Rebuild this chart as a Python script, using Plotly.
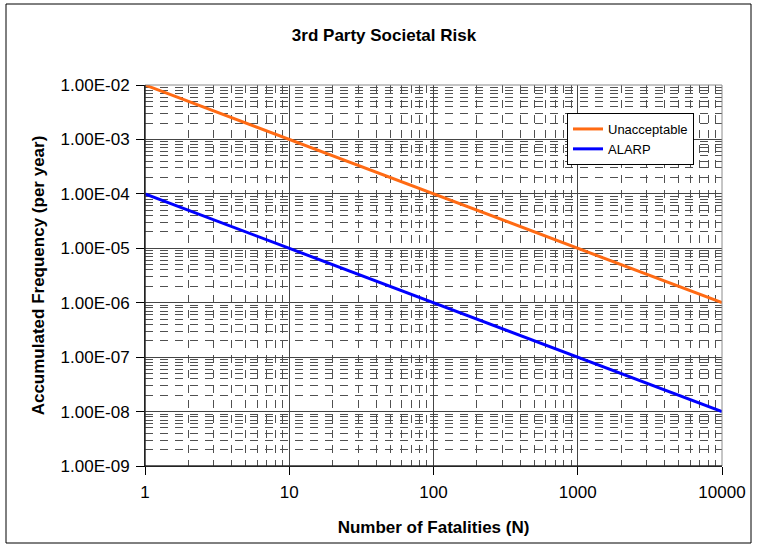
import plotly.graph_objects as go

# Societal risk criteria (F-N curve)
fatalities = [1, 10, 100, 1000, 10000]
unacceptable = [1e-2, 1e-3, 1e-4, 1e-5, 1e-6]
alarp = [1e-4, 1e-5, 1e-6, 1e-7, 1e-8]

x_tickvals = [1, 10, 100, 1000, 10000]
x_ticktext = ["1", "10", "100", "1000", "10000"]
y_tickvals = [1e-9, 1e-8, 1e-7, 1e-6, 1e-5, 1e-4, 1e-3, 1e-2]
y_ticktext = ["1.00E-09", "1.00E-08", "1.00E-07", "1.00E-06",
              "1.00E-05", "1.00E-04", "1.00E-03", "1.00E-02"]

W, H = 757, 548
L, R, T, B = 145, 35, 85, 82
FONT = "Liberation Sans, Arial, sans-serif"

fig = go.Figure()
fig.add_trace(go.Scatter(x=fatalities, y=unacceptable, mode="lines",
                         name="Unacceptable", line=dict(color="#FF6A13", width=3)))
fig.add_trace(go.Scatter(x=fatalities, y=alarp, mode="lines",
                         name="ALARP", line=dict(color="#0000FF", width=3)))

axis_common = dict(
    showline=True, linecolor="#000000", linewidth=1, mirror=False,
    showgrid=True, gridcolor="#454545", gridwidth=1,
    ticks="outside", ticklen=8, tickcolor="#000000",
    ticklabelstandoff=3,
    tickfont=dict(family=FONT, size=17, color="#000000"),
    zeroline=False,
    minor=dict(dtick="D1", showgrid=True, gridcolor="#505050",
               griddash="8px,7px", gridwidth=1, ticks=""),
)

fig.update_xaxes(type="log", range=[0, 4], tickvals=x_tickvals, ticktext=x_ticktext,
                 title=dict(text="<b>Number of Fatalities (N)</b>",
                            font=dict(family=FONT, size=17, color="#000000"), standoff=19),
                 **axis_common)
fig.update_yaxes(type="log", range=[-9, -2], tickvals=y_tickvals, ticktext=y_ticktext,
                 title=dict(text="<b>Accumulated Frequency (per year)</b>",
                            font=dict(family=FONT, size=17, color="#000000"), standoff=11),
                 **axis_common)

pw, ph = W - L - R, H - T - B
# outer chart frame and grey plot-area border on the top/right
fig.add_shape(type="rect", xref="paper", yref="paper", layer="below",
              x0=(6 - L) / pw, x1=(751 - L) / pw,
              y0=(H - B - 543) / ph, y1=(H - B - 4) / ph,
              line=dict(color="#000000", width=1), fillcolor="rgba(0,0,0,0)")
fig.add_shape(type="rect", xref="paper", yref="paper", layer="above",
              x0=0, x1=1, y0=0, y1=1,
              line=dict(color="#8C8C8C", width=1), fillcolor="rgba(0,0,0,0)")
fig.add_shape(type="line", xref="paper", yref="paper", layer="above",
              x0=0, x1=0, y0=0, y1=1, line=dict(color="#000000", width=1))
fig.add_shape(type="line", xref="paper", yref="paper", layer="above",
              x0=0, x1=1, y0=0, y1=0, line=dict(color="#000000", width=1))

fig.update_layout(
    width=W, height=H,
    margin=dict(l=L, r=R, t=T, b=B),
    paper_bgcolor="#FFFFFF", plot_bgcolor="#FFFFFF",
    title=dict(text="<b>3rd Party Societal Risk</b>", x=384 / W,
               xanchor="center", y=1 - 35 / H, yanchor="middle",
               font=dict(family=FONT, size=17, color="#000000")),
    legend=dict(x=(567 - L) / pw, y=(H - B - 113) / ph, xanchor="left", yanchor="top",
                bgcolor="#FFFFFF", bordercolor="#000000", borderwidth=1,
                font=dict(family=FONT, size=13, color="#000000"),
                tracegroupgap=0, itemwidth=30),
    showlegend=True,
)

fig.write_html("out.html")
